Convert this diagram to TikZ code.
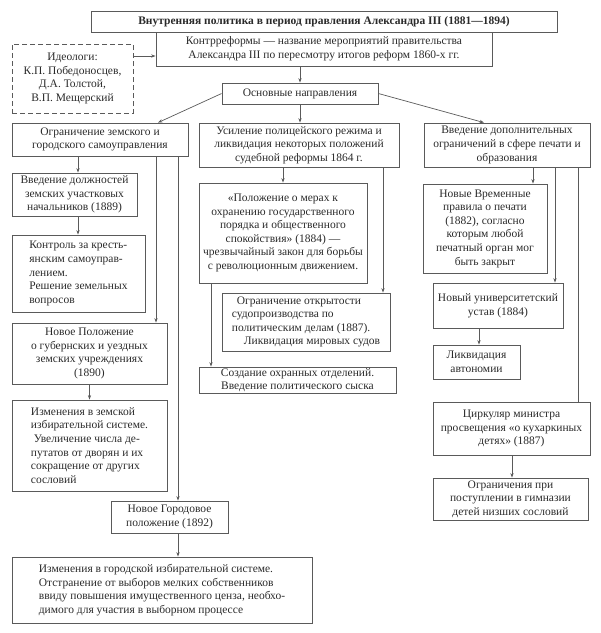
\documentclass[tikz,border=0pt]{standalone}
\usepackage{fontspec}
\setmainfont{Liberation Serif}
\usetikzlibrary{arrows.meta}
\definecolor{linec}{HTML}{5A5A5A}
\definecolor{textc}{HTML}{2A2A2A}
\newcommand\fs{\fontsize{11.5}{13.6}\selectfont}
\tikzset{
  box/.style={draw=linec, line width=0.8pt, inner sep=0pt, align=center, font=\fs, text=textc},
  lbox/.style={box, align=left},
  dbox/.style={box, dash pattern=on 5pt off 3pt},
  arr/.style={draw=linec, line width=0.7pt, -{Stealth[length=4.5pt,width=3.2pt]}},
  ln/.style={draw=linec, line width=0.7pt}
}
\begin{document}
\begin{tikzpicture}[x=1pt,y=-1pt]
\useasboundingbox (0,0) rectangle (601,633);
\node[box, minimum width=466pt, minimum height=21pt, font=\fs\bfseries] (title) at (324,21.5) {Внутренняя политика в период правления Александра III (1881—1894)};
\node[box, minimum width=336pt, minimum height=34pt] (kontr) at (324,49) {Контрреформы — название мероприятий правительства\\Александра III по пересмотру итогов реформ 1860-х гг.};
\node[dbox, minimum width=121pt, minimum height=69pt] (ideo) at (72.5,78.5) {Идеологи:\\К.П. Победоносцев,\\Д.А. Толстой,\\В.П. Мещерский};
\node[box, minimum width=156pt, minimum height=21pt] (osn) at (300,93.5) {Основные направления};
% left column
\node[box, minimum width=176pt, minimum height=33pt] (left) at (100,139.5) {Ограничение земского и\\городского самоуправления};
\node[box, minimum width=125pt, minimum height=43pt] (vdz) at (74.5,194.5) {Введение должностей\\земских участковых\\начальников (1889)};
\node[lbox, minimum width=133pt, minimum height=77pt] (kontrol) at (78.5,273.5) {Контроль за кресть-\\янским самоуправ-\\лением.\\Решение земельных\\вопросов};
\node[box, minimum width=155pt, minimum height=61pt] (np) at (89.5,353.5) {Новое Положение\\о губернских и уездных\\земских учреждениях\\(1890)};
\node[lbox, minimum width=155pt, minimum height=91pt] (izz) at (89.5,445.5) {Изменения в земской\\избирательной системе.\\\hspace*{3pt}Увеличение числа де-\\путатов от дворян и их\\сокращение от других\\сословий};
\node[box, minimum width=117pt, minimum height=32pt] (ng) at (169.5,517) {Новое Городовое\\положение (1892)};
\node[lbox, minimum width=300pt, minimum height=66pt] (izg) at (162,590) {Изменения в городской избирательной системе.\\Отстранение от выборов мелких собственников\hspace*{12pt}\\ввиду повышения имущественного ценза, необхо-\\димого для участия в выборном процессе};
% center column
\node[box, minimum width=200pt, minimum height=44pt] (usil) at (299,145) {Усиление полицейского режима и\\ликвидация некоторых положений\\судебной реформы 1864 г.};
\node[box, minimum width=168pt, minimum height=100pt] (pol) at (283,233) {«Положение о мерах к\\охранению государственного\\порядка и общественного\\спокойствия» (1884) —\\чрезвычайный закон для борьбы\\с революционным движением.};
\node[lbox, minimum width=168pt, minimum height=58pt] (ogr) at (306,322) {\hspace*{5pt}Ограничение открытости\\судопроизводства по\\политическим делам (1887).\\\hspace*{12pt}Ликвидация мировых судов};
\node[box, minimum width=197pt, minimum height=26pt] (sozd) at (297.5,380) {Создание охранных отделений.\\Введение политического сыска};
% right column
\node[box, minimum width=166pt, minimum height=44pt] (vved) at (507,145) {Введение дополнительных\\ограничений в сфере печати и\\образования};
\node[box, minimum width=124pt, minimum height=89pt] (nvr) at (485,228.5) {Новые Временные\\правила о печати\\(1882), согласно\\которым любой\\печатный орган мог\\быть закрыт};
\node[box, minimum width=130pt, minimum height=45pt] (univ) at (498,305.5) {Новый университетский\\устав (1884)};
\node[box, minimum width=87pt, minimum height=34pt] (likv) at (476.5,362) {Ликвидация\\автономии};
\node[box, minimum width=157pt, minimum height=53pt] (tsirk) at (511.5,428.5) {Циркуляр министра\\просвещения «о кухаркиных\\детях» (1887)};
\node[box, minimum width=155pt, minimum height=42pt] (ogrpri) at (510.5,499) {Ограничения при\\поступлении в гимназии\\детей низших сословий};
% connectors
\draw[arr] (ideo.east |- 0,56) -- (kontr.west |- 0,56);
\draw[arr] (osn.north |- kontr.south) -- (osn.north);
\draw[arr] (osn.west) -- (left.north -| 158,0);
\draw[arr] (osn.south) -- (osn.south |- usil.north);
\draw[arr] (osn.east) -- (vved.north -| 484,0);
\draw[arr] (left.south -| 78,0) -- (vdz.north -| 78,0);
\draw[arr] (vdz.south -| 78,0) -- (kontrol.north -| 78,0);
\draw[arr] (left.south -| 156,0) -- (np.north -| 156,0);
\draw[arr] (np.south) -- (izz.north);
\draw[arr] (left.south -| 178,0) -- (ng.north -| 178,0);
\draw[arr] (ng.south -| 178,0) -- (izg.north -| 178,0);
\draw[arr] (usil.south -| pol.north) -- (pol.north);
\draw[arr] (usil.south -| 383,0) -- (ogr.north -| 383,0);
\draw[arr] (pol.south -| 211,0) -- (sozd.north -| 211,0);
\draw[arr] (vved.south -| 533,0) -- (nvr.north -| 533,0);
\draw[arr] (vved.south -| 555,0) -- (univ.north -| 555,0);
\draw[ln] (vved.south -| 578,0) -- (tsirk.north -| 578,0);
\draw[arr] (univ.south -| 479,0) -- (likv.north -| 479,0);
\draw[arr] (tsirk.south -| 512,0) -- (ogrpri.north -| 512,0);
\end{tikzpicture}
\end{document}
